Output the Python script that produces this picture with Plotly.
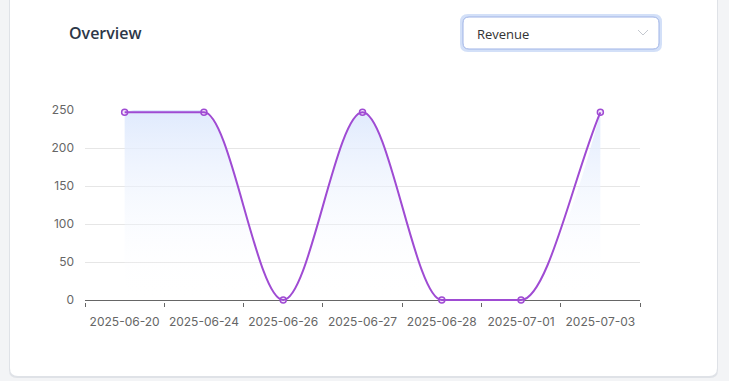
import math
import plotly.graph_objects as go

categories = ["2025-06-20", "2025-06-24", "2025-06-26", "2025-06-27",
              "2025-06-28", "2025-07-01", "2025-07-03"]
revenue = [247, 247, 0, 247, 0, 0, 247]
y_ticks = [0, 50, 100, 150, 200, 250]

LINE = "#9f4bd3"
PAGE_BG = "#f3f4f6"

W, H = 729, 381
Y_MIN = -2.632  # a little room below zero so the line along 0 is not clipped
ML, MR, MT, MB = 85, 89, 110, 79
PW, PH = W - ML - MR, H - MT - MB


def px(x):
    return (x - ML) / PW


def py(y):
    return (H - MB - y) / PH


def rrect(x0, y0, x1, y1, r):
    rx, ry = r / PW, r / PH
    X0, X1 = px(x0), px(x1)
    Y0, Y1 = py(y0), py(y1)  # Y0 top (larger), Y1 bottom
    return (f"M{X0+rx},{Y0} L{X1-rx},{Y0} Q{X1},{Y0} {X1},{Y0-ry} "
            f"L{X1},{Y1+ry} Q{X1},{Y1} {X1-rx},{Y1} L{X0+rx},{Y1} "
            f"Q{X0},{Y1} {X0},{Y1+ry} L{X0},{Y0-ry} Q{X0},{Y0} {X0+rx},{Y0} Z")


def monotone_path(ys):
    """Monotone cubic (Fritsch-Carlson) Bezier path in data units,
    x = category index, y = value."""
    n = len(ys)
    xs = list(range(n))
    d = [(ys[k + 1] - ys[k]) / (xs[k + 1] - xs[k]) for k in range(n - 1)]
    m = [0.0] * n
    m[0], m[-1] = d[0], d[-1]
    for k in range(1, n - 1):
        if d[k - 1] == 0 or d[k] == 0 or (d[k - 1] > 0) != (d[k] > 0):
            m[k] = 0.0
        else:
            m[k] = (d[k - 1] + d[k]) / 2
    for k in range(n - 1):
        if d[k] == 0:
            m[k] = m[k + 1] = 0.0
            continue
        a, b = m[k] / d[k], m[k + 1] / d[k]
        s = a * a + b * b
        if s > 9:
            t = 3 / math.sqrt(s)
            m[k], m[k + 1] = a * t * d[k], b * t * d[k]
    p = f"M{xs[0]},{ys[0]}"
    for k in range(n - 1):
        h = (xs[k + 1] - xs[k]) / 3
        p += (f" C{xs[k] + h},{ys[k] + h * m[k]} "
              f"{xs[k + 1] - h},{ys[k + 1] - h * m[k + 1]} {xs[k + 1]},{ys[k + 1]}")
    return p


fig = go.Figure()
# gradient area under the curve
fig.add_trace(go.Scatter(
    x=categories, y=revenue, mode="lines",
    line=dict(color="rgba(0,0,0,0)", width=0, shape="spline", smoothing=1),
    fill="tozeroy",
    fillgradient=dict(type="vertical", start=0, stop=250,
                      colorscale=[[0, "rgba(255,255,255,0)"],
                                  [1, "rgba(222,233,253,0.95)"]]),
    hoverinfo="skip", showlegend=False,
))
# points
fig.add_trace(go.Scatter(
    x=categories, y=revenue, mode="markers",
    marker=dict(size=6, color="#f5e9fc", line=dict(color=LINE, width=1.5)),
    cliponaxis=False, hoverinfo="x+y", showlegend=False,
))

shapes = [
    # card shadow
    dict(type="path", xref="paper", yref="paper", layer="below",
         path=rrect(9, -30, 718, 378, 8), fillcolor="#dfe2e7", line=dict(width=0)),
    # card
    dict(type="path", xref="paper", yref="paper", layer="below",
         path=rrect(10, -30, 717, 376, 8), fillcolor="white", line=dict(width=0)),
    # revenue line (monotone cubic through the data points)
    dict(type="path", xref="x", yref="y", layer="above",
         path=monotone_path(revenue), line=dict(color=LINE, width=2)),
    # dropdown focus ring
    dict(type="path", xref="paper", yref="paper", layer="above",
         path=rrect(460, 14, 662, 52, 8), fillcolor="#d3e0f8", line=dict(width=0)),
    # dropdown box
    dict(type="path", xref="paper", yref="paper", layer="above",
         path=rrect(463, 17, 659, 49, 6), fillcolor="white",
         line=dict(color="#9fb3e6", width=1)),
    # chevron
    dict(type="path", xref="paper", yref="paper", layer="above",
         path=f"M{px(638)},{py(30)} L{px(643)},{py(35)} L{px(648)},{py(30)}",
         line=dict(color="#c4c8cf", width=1)),
]

annotations = [
    dict(text="Overview", xref="paper", yref="paper", x=px(67), y=py(33),
         xanchor="left", yanchor="middle", showarrow=False,
         font=dict(family="Open Sans, sans-serif", size=16, color="#2d3748",
                   weight=600)),
    dict(text="Revenue", xref="paper", yref="paper", x=px(475), y=py(34),
         xanchor="left", yanchor="middle", showarrow=False,
         font=dict(family="Open Sans, sans-serif", size=13, color="#333333")),
]

fig.update_layout(
    width=W, height=H,
    margin=dict(l=ML, r=MR, t=MT, b=MB, pad=0),
    paper_bgcolor=PAGE_BG, plot_bgcolor="rgba(0,0,0,0)",
    font=dict(family="Inter, sans-serif", size=12, color="#666666"),
    shapes=shapes, annotations=annotations,
    xaxis=dict(type="category", range=[-0.5, len(categories) - 0.5],
               tickson="boundaries", ticks="outside",
               ticklen=4, tickcolor="#666666", showline=False, showgrid=False,
               ticklabelstandoff=11,
               tickfont=dict(size=12, color="#666666"), fixedrange=True),
    yaxis=dict(range=[Y_MIN, 250], tickvals=y_ticks, showgrid=True,
               gridcolor="#e6e6e6", gridwidth=1,
               zeroline=True, zerolinecolor="#666666", zerolinewidth=1,
               showline=False, ticks="", ticklabelstandoff=10,
               tickfont=dict(size=12, color="#666666"), fixedrange=True),
)

fig.write_html(
    "out.html",
    config={"displayModeBar": False},
    post_script=(f"document.body.style.margin='0';"
                 f"document.body.style.background='{PAGE_BG}';"),
)
